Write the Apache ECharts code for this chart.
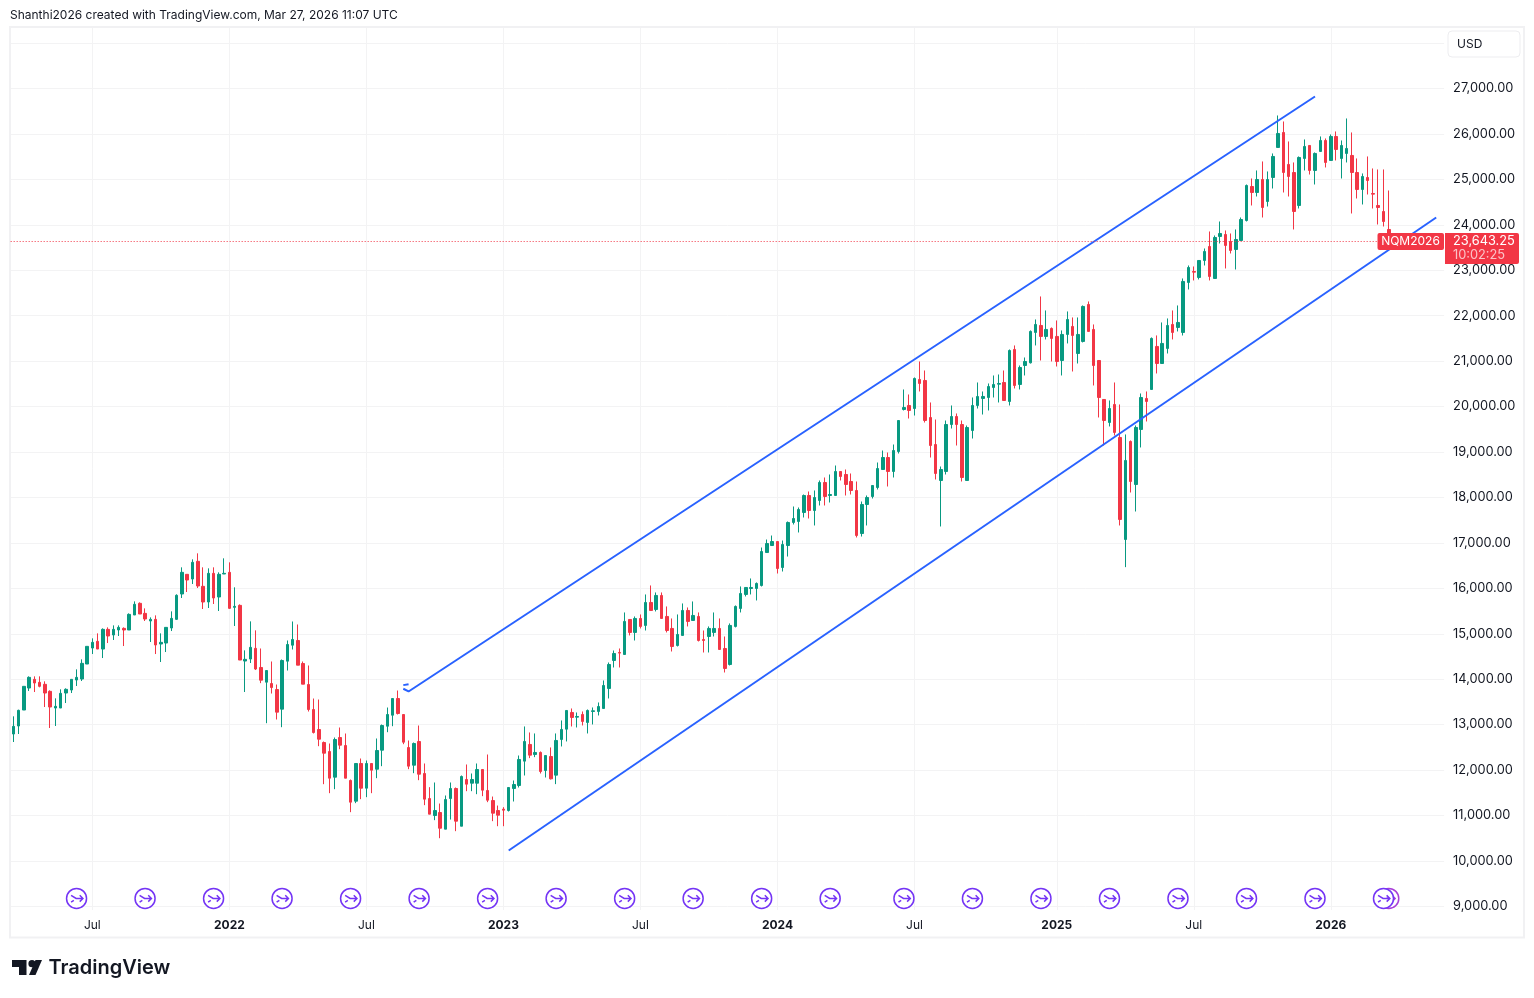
<!DOCTYPE html>
<html>
<head>
<meta charset="utf-8">
<title>NQM2026</title>
<style>
html, body { margin: 0; padding: 0; background: #fff; }
#chart { width: 1534px; height: 998px; }
</style>
<script src="https://cdn.jsdelivr.net/npm/echarts@6/dist/echarts.min.js"></script>
</head>
<body>
<div id="chart"></div>
<script>
// weekly candles, first week 2021-03-22
var opens = [
	12794,12970,13322,13806,13997,13931,13887,13733,13366,13366,
	13696,13762,13982,14004,14334,14686,14833,14664,15097,14973,
	15083,15119,15083,15413,15670,15449,15281,15317,14775,14796,
	15127,15317,15875,16308,16205,16594,16044,15699,16330,15809,
	16315,16352,15581,15625,14400,14444,14679,14258,13935,13905,
	13773,13341,14397,14749,14852,14346,13883,13333,12893,12607,
	12409,11844,12717,12541,11771,11316,12145,11602,12145,12020,
	12438,12966,13208,13575,13223,12497,12108,12629,11925,11374,
	11000,11066,10700,11374,11595,10765,11793,11712,11712,12013,
	11551,11330,11110,11140,11110,11595,11661,12197,12564,12344,
	12388,11991,12299,11889,12674,12901,13268,13165,13224,13048,
	13290,13290,13356,13796,14412,14588,14544,15315,15029,15337,
	15183,15689,15535,15843,15381,15117,14742,14963,15513,15293,
	15381,14874,14940,15029,15117,14676,14324,15161,15557,15865,
	15997,15997,16062,16788,16942,17030,16458,16942,17449,17471,
	17669,18043,17713,17933,18329,18043,18043,18571,18505,18351,
	18153,17206,17845,18021,18219,18615,18879,18571,19011,19936,
	20024,19957,20596,20574,19759,19165,18373,18571,19605,19782,
	19605,18373,19473,20024,20178,20200,20420,20493,20530,20112,
	21257,20486,20904,20963,21631,21785,21543,21719,21543,21014,
	21587,21763,21168,21433,22247,21697,21014,20156,19650,20046,
	19320,17075,19232,18285,19496,20178,20376,21323,20948,21279,
	21807,21741,21631,22731,22973,22841,23215,23523,22819,23743,
	23787,23633,23457,23655,24095,24843,24711,24997,24513,25041,
	25702,26032,25328,25151,24425,25460,25746,25196,25614,25856,
	25416,25944,25460,25570,25526,25151,24777,25041,24689,24425,
	24293,23897
];
var closes = [
	12962,13315,13843,14041,13916,13843,13696,13388,13403,13689,
	13777,13997,14041,14349,14723,14811,14664,15097,14951,15097,
	15141,15083,15427,15648,15435,15325,15317,14753,14811,15141,
	15339,15846,16352,16183,16572,16051,15699,16330,15787,16308,
	16330,15559,15603,14422,14437,14701,14224,13979,14191,13817,
	13275,14412,14764,14874,14309,13891,13333,12827,12680,12372,
	11822,12673,12548,11822,11294,12145,11602,12145,11998,12431,
	12981,13223,13575,13245,12614,12086,12585,11910,11360,11030,
	11110,10721,11352,11595,10876,11859,11690,11793,12013,11558,
	11338,11052,11008,11118,11617,11683,12234,12630,12329,12388,
	11969,12321,11808,12652,12894,13312,13158,13180,13070,13312,
	13305,13400,13862,14324,14566,14574,15271,15029,15337,15161,
	15689,15513,15843,15337,15072,14720,14985,15513,15271,15403,
	14852,14852,15117,15117,14654,14236,15183,15601,15887,16019,
	16019,16107,16810,16986,17030,16436,16964,17449,17537,17735,
	18043,17713,17999,18329,18021,18065,18571,18461,18285,18153,
	17163,17845,17999,18263,18637,18879,18571,19033,19693,19980,
	19914,20618,20508,19693,19143,18527,18615,19605,19782,19605,
	18439,19539,20024,20222,20222,20442,20486,20508,20134,21234,
	20464,20860,20992,21653,21807,21543,21697,21499,20992,21587,
	21917,21565,21587,22203,21653,20904,20200,19694,19958,19430,
	17515,18814,18351,19540,20200,20112,21499,20948,21389,21785,
	21631,21851,22753,23061,22958,23215,23413,22863,23721,23809,
	23545,23435,23677,24117,24865,24711,24997,24381,24997,25504,
	26010,25151,25063,24293,25482,25724,25196,25570,25856,25372,
	25944,25658,25746,25680,25151,24777,25063,24975,24675,24381,
	24073,23643
];
var lows = [
	12618,12794,13322,13740,13718,13821,13388,12926,12970,13366,
	13476,13696,13850,13960,14334,14554,14664,14466,14796,14863,
	14951,14730,15083,15413,15435,15281,14819,14554,14378,14598,
	15060,15303,15787,15919,16095,16007,15545,15567,15655,15501,
	16315,15545,15171,14422,13718,14356,14202,13913,13032,13685,
	13113,12944,14191,14654,14309,13891,13289,12805,12526,11690,
	11492,11580,12460,11822,11074,11272,11360,11404,11492,11822,
	12086,12834,12966,13223,12570,12020,11932,11778,11228,11030,
	10898,10501,10700,10912,10656,10765,11536,11536,11470,11426,
	11294,10876,10765,10765,11088,11309,11617,11881,12263,12285,
	11925,11837,11793,11691,12520,12630,12960,12938,12982,12806,
	13004,13202,13356,13576,14258,14258,14544,14963,14852,15117,
	15072,15513,15491,15337,15029,14610,14720,14963,15161,15293,
	14830,14588,14588,14940,14654,14148,14302,15139,15469,15821,
	15865,15733,16040,16788,16942,16326,16370,16700,17405,17229,
	17559,17537,17383,17823,17823,17889,18043,18373,18043,18065,
	17119,17140,17383,17977,18175,18615,18241,18439,18967,19914,
	19737,19803,20332,19649,18879,18395,17361,18505,19517,19143,
	18351,18373,19297,19957,19825,19914,20200,20090,20134,20024,
	20398,20376,20684,20948,21345,21014,21477,20992,20882,20684,
	21389,20772,20948,21411,21653,20464,19760,19144,19562,19364,
	17383,16466,18109,17691,19100,19672,20376,20728,20948,21168,
	21477,21653,21564,22577,22775,22797,23105,22775,22819,23589,
	23039,23369,23017,23655,24073,24425,24623,24161,24403,24799,
	25702,24711,24623,23897,24359,25196,25107,24887,25614,25262,
	25416,25416,25019,25372,24249,24579,24447,24667,24359,24007,
	23963,23600
];
var highs = [
	13183,13329,13843,14063,14063,14063,13953,13755,13579,13777,
	13799,13997,14217,14437,14723,14899,15009,15119,15141,15185,
	15185,15141,15449,15713,15691,15559,15361,15405,15009,15141,
	15493,15868,16462,16308,16638,16770,16462,16440,16462,16352,
	16660,16572,16022,15647,14635,15273,15075,14676,14191,14390,
	13883,14434,14852,15270,15204,14390,14302,13575,13553,12629,
	12585,12717,12937,12805,11793,12145,12255,12211,12145,12695,
	13003,13377,13575,13751,13223,12651,12607,12981,12145,11624,
	11727,11264,11441,11727,11617,11881,12123,11925,12145,12013,
	12343,11418,11220,11184,11617,11771,12321,12960,12828,12806,
	12410,12321,12498,12806,13092,13312,13356,13268,13290,13334,
	13378,13488,13972,14368,14632,14676,15469,15315,15381,15425,
	15865,16063,15909,15909,15601,15337,15425,15667,15579,15711,
	15469,15072,15161,15469,15337,14940,15227,15623,16041,16019,
	16217,16129,16898,17074,17162,17030,17052,17471,17801,17779,
	18065,18131,18153,18373,18439,18505,18703,18571,18615,18527,
	18351,17911,18043,18263,18769,19033,18989,19165,19693,20376,
	20266,20640,20992,20794,20090,19715,18681,19693,20024,19848,
	19693,19583,20200,20530,20332,20508,20684,20706,20794,21257,
	21345,20904,21080,21675,21917,22423,22115,21741,21895,21675,
	22093,21961,21961,22225,22313,21807,21014,20156,20134,20530,
	20046,19386,19254,19584,20288,20332,21521,21565,21851,21939,
	22115,22225,22819,23105,23083,23215,23479,23853,23765,24073,
	23875,23809,23897,24161,24887,25019,25196,25394,25174,25570,
	26406,26274,25834,25372,25504,25878,25746,25592,25944,25900,
	25988,26054,25856,26340,26032,25460,25130,25504,25240,25218,
	25218,24755
];

// week index -> label on the time axis
var timeTickWeeks = [15, 41, 67, 93, 119, 145, 171, 198, 224, 250];
var timeTickLabels = ['Jul', '2022', 'Jul', '2023', 'Jul', '2024', 'Jul', '2025', 'Jul', '2026'];
var priceTicks = [9000, 10000, 11000, 12000, 13000, 14000, 15000, 16000, 17000, 18000, 19000, 20000,
	21000, 22000, 23000, 24000, 25000, 26000, 27000, 28000];

// [week index, price]
var upperChannel = [[74, 13790], [75, 13730], [247, 26824]];
var lowerChannel = [[94, 10231], [270, 24161]];
var channelMark = [[74, 13870], [75, 13890]];

// contract roll markers along the bottom
var rollWeeks = [12, 25, 38, 51, 64, 77, 90, 103, 116, 129, 142, 155, 169, 182, 195, 208, 221, 234, 247, 260];
var rollWeeksLast = [261];
var rollLevel = 9175;

var lastPrice = 23643.25;
var weekCount = 272; // includes the empty weeks right of the last candle

var upColor = '#089981';
var downColor = '#F23645';
var lineColor = '#2962FF';
var textColor = '#131722';
var gridColor = '#F3F3F4';
var fontName = 'Inter';

var rollIcon = 'path://M12 1a11 11 0 1 0 0.001 0z M6 8.5L11.5 12L19 12 M15.5 8.5L19 12L15.5 15.5 M6 16L9 14';

var categories = [];
for (var w = 0; w < weekCount; w++) {
	categories.push(String(w));
}
var candles = opens.map(function(o, i) {
	return [o, closes[i], lows[i], highs[i]];
});
var toPairs = function(weeks) {
	return weeks.map(function(week) {
		return [week, rollLevel];
	});
};
var isTimeTick = function(index) {
	return timeTickWeeks.indexOf(index) >= 0;
};
var channelSeries = function(points, width) {
	return {
		type : 'line',
		data : points,
		showSymbol : false,
		silent : true,
		z : 4,
		lineStyle : { color : lineColor, width : width }
	};
};
var rollSeries = function(weeks, color) {
	return {
		type : 'scatter',
		data : toPairs(weeks),
		symbol : rollIcon,
		symbolSize : 20,
		silent : true,
		z : 5,
		itemStyle : { color : '#fff', borderColor : color, borderWidth : 1.5, opacity : 1 }
	};
};

var option = {
	animation : false,
	backgroundColor : '#fff',
	textStyle : { fontFamily : fontName },
	grid : { left : 10.67, width : 1433.44, top : 27.5, height : 882.5 },
	xAxis : {
		type : 'category',
		data : categories,
		axisLine : { show : false },
		axisTick : { show : false },
		splitLine : {
			show : true,
			alignWithLabel : true,
			interval : function(index) { return isTimeTick(index); },
			lineStyle : { color : gridColor, width : 1 }
		},
		axisLabel : {
			interval : function(index) { return isTimeTick(index); },
			margin : 9.5,
			fontSize : 12,
			fontFamily : fontName,
			color : textColor,
			formatter : function(value, index) {
				var label = timeTickLabels[timeTickWeeks.indexOf(+value)];
				return label === 'Jul' ? label : '{year|' + label + '}';
			},
			rich : { year : { fontSize : 12, fontWeight : 700, fontFamily : fontName, color : textColor } }
		}
	},
	yAxis : {
		type : 'value',
		position : 'right',
		min : 8921,
		max : 28342,
		axisLine : { show : false },
		axisTick : { show : false, customValues : priceTicks },
		splitLine : { show : true, lineStyle : { color : gridColor, width : 1 } },
		axisLabel : {
			customValues : priceTicks.slice(0, -1),
			margin : 9,
			fontSize : 12.8,
			fontFamily : fontName,
			color : textColor,
			align : 'left',
			padding : [0, 0, 5, 0],
			formatter : function(value) {
				return value.toLocaleString('en-US', { minimumFractionDigits : 2 });
			}
		}
	},
	series : [ {
		type : 'candlestick',
		data : candles,
		barWidth : 3,
		silent : true,
		z : 3,
		itemStyle : {
			color : upColor,
			color0 : downColor,
			borderColor : upColor,
			borderColor0 : downColor,
			borderWidth : 1
		},
		markLine : {
			silent : true,
			symbol : 'none',
			animation : false,
			label : { show : false },
			lineStyle : { color : downColor, type : [1, 2], width : 1 },
			data : [ { yAxis : lastPrice } ]
		}
	},
	channelSeries(upperChannel, 2),
	channelSeries(lowerChannel, 2),
	channelSeries(channelMark, 2),
	rollSeries(rollWeeksLast, '#A93FD8'),
	rollSeries(rollWeeks, '#7434F5') ]
};

var chart = echarts.init(document.getElementById('chart'));
chart.setOption(option);

var priceY = chart.convertToPixel({ yAxisIndex : 0 }, lastPrice);
chart.setOption({
	graphic : [ {
		type : 'rect', z : 0, silent : true,
		shape : { x : 10, y : 27, width : 1514, height : 910.5 },
		style : { fill : 'none', stroke : '#F1F1F3', lineWidth : 2 }
	}, {
		type : 'text', x : 10, y : 15, z : 100,
		style : { text : 'Shanthi2026 created with TradingView.com, Mar 27, 2026 11:07 UTC',
			font : '12px ' + fontName, fill : textColor, verticalAlign : 'middle' }
	}, {
		type : 'rect', z : 100,
		shape : { x : 1448, y : 31, width : 72, height : 26, r : 4 },
		style : { fill : '#fff', stroke : '#EDEDF0', lineWidth : 1 }
	}, {
		type : 'text', x : 1457, y : 44, z : 101,
		style : { text : 'USD', font : '12px ' + fontName, fill : textColor, verticalAlign : 'middle' }
	}, {
		type : 'rect', z : 100,
		shape : { x : 1377.5, y : priceY - 8, width : 66.5, height : 17, r : 2 },
		style : { fill : downColor }
	}, {
		type : 'text', x : 1410.5, y : priceY, z : 101,
		style : { text : 'NQM2026', font : '12px ' + fontName, fill : '#fff', align : 'center', verticalAlign : 'middle' }
	}, {
		type : 'rect', z : 100,
		shape : { x : 1445, y : priceY - 8, width : 74, height : 31, r : [0, 2, 2, 0] },
		style : { fill : downColor }
	}, {
		type : 'text', x : 1453, y : priceY, z : 101,
		style : { text : lastPrice.toLocaleString('en-US', { minimumFractionDigits : 2 }),
			font : '12.8px ' + fontName, fill : '#fff', verticalAlign : 'middle' }
	}, {
		type : 'text', x : 1453, y : priceY + 14, z : 101,
		style : { text : '10:02:25', font : '12.8px ' + fontName, fill : 'rgba(255,255,255,0.7)', verticalAlign : 'middle' }
	}, {
		type : 'polygon', z : 100,
		shape : { points : [[12, 960], [26.5, 960], [26.5, 975], [19, 975], [19, 967], [12, 967]] },
		style : { fill : '#131722' }
	}, {
		type : 'circle', z : 100,
		shape : { cx : 32, cy : 963.7, r : 3.6 },
		style : { fill : '#131722' }
	}, {
		type : 'polygon', z : 100,
		shape : { points : [[35.5, 960], [42, 960], [35.5, 975], [29, 975]] },
		style : { fill : '#131722' }
	}, {
		type : 'text', x : 48.5, y : 968, z : 100,
		style : { text : 'TradingView', font : '600 20px ' + fontName, fill : '#131722', verticalAlign : 'middle' }
	} ]
});
</script>
</body>
</html>
